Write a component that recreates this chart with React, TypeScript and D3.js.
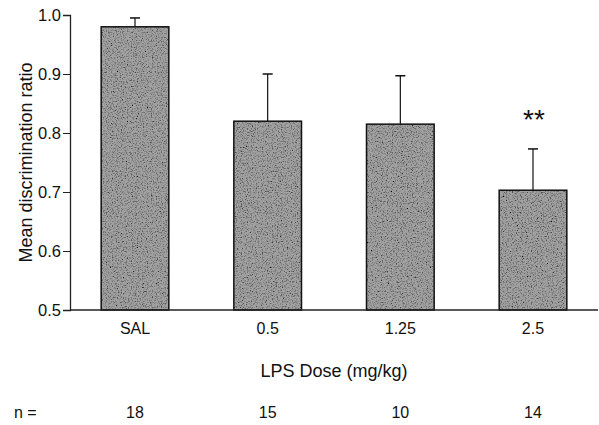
import React from "react";
import * as d3 from "d3";

const doses = ["SAL", "0.5", "1.25", "2.5"];
const means = [0.98, 0.82, 0.815, 0.703];
const errors = [0.015, 0.08, 0.082, 0.07];
const counts = [18, 15, 10, 14];
const yTicks = [0.5, 0.6, 0.7, 0.8, 0.9, 1.0];
const stars = ["", "", "", "**"];

const App = () => {
    const width = 599;
    const height = 425;
    const margin = { top: 15, right: 1, bottom: 115, left: 70 };
    const svgRef = React.useRef<SVGSVGElement>(null);

    React.useEffect(() => {
        const svg = d3.select(svgRef.current);
        svg.selectAll("*").remove();

        const x = d3.scaleBand<string>()
            .domain(doses)
            .range([margin.left, width - margin.right])
            .paddingInner(0.49)
            .paddingOuter(0.235);

        const y = d3.scaleLinear()
            .domain([0.5, 1.0])
            .range([height - margin.bottom, margin.top]);

        const font = "'Liberation Sans', Arial, sans-serif";

        // grainy gray fill
        const defs = svg.append("defs");
        const f = defs.append("filter").attr("id", "grain")
            .attr("x", 0).attr("y", 0).attr("width", 1).attr("height", 1);
        f.append("feTurbulence")
            .attr("type", "fractalNoise")
            .attr("baseFrequency", 0.8)
            .attr("numOctaves", 3)
            .attr("seed", 5)
            .attr("result", "noise");
        f.append("feColorMatrix")
            .attr("in", "noise")
            .attr("type", "matrix")
            .attr("values", "0 0 0 0 0  0 0 0 0 0  0 0 0 0 0  0 0 0 -2.4 1.3")
            .attr("result", "dots");
        f.append("feComposite").attr("in", "dots").attr("in2", "SourceGraphic").attr("operator", "atop");

        const bars = svg.append("g");
        data().forEach(d => {
            const bx = x(d.dose)!;
            const bw = x.bandwidth();
            const cx = bx + bw / 2;
            bars.append("rect")
                .attr("x", bx).attr("y", y(d.mean))
                .attr("width", bw).attr("height", y(0.5) - y(d.mean))
                .attr("fill", "#a2a2a2")
                .attr("filter", "url(#grain)");
            bars.append("rect")
                .attr("x", bx).attr("y", y(d.mean))
                .attr("width", bw).attr("height", y(0.5) - y(d.mean))
                .attr("fill", "none").attr("stroke", "#111").attr("stroke-width", 1.5);
            bars.append("line")
                .attr("x1", cx).attr("x2", cx)
                .attr("y1", y(d.mean)).attr("y2", y(d.mean + d.err))
                .attr("stroke", "#111").attr("stroke-width", 1.2);
            bars.append("line")
                .attr("x1", cx - 5).attr("x2", cx + 5)
                .attr("y1", y(d.mean + d.err)).attr("y2", y(d.mean + d.err))
                .attr("stroke", "#111").attr("stroke-width", 1.5);
            if (d.star) {
                bars.append("text")
                    .attr("x", cx + 1).attr("y", y(d.mean + d.err) - 20)
                    .attr("text-anchor", "middle")
                    .attr("font-family", font).attr("font-size", 28)
                    .attr("fill", "#111")
                    .text(d.star);
            }
        });

        // axes
        const yAxis = svg.append("g")
            .attr("transform", `translate(${margin.left},0)`)
            .call(d3.axisLeft(y).tickValues(yTicks).tickFormat(d3.format(".1f")).tickSize(7).tickPadding(2));
        yAxis.select(".domain").attr("stroke", "#222").attr("stroke-width", 1.3);
        yAxis.selectAll(".tick line").attr("stroke", "#222");
        yAxis.selectAll("text").attr("font-family", font).attr("font-size", 16.5).attr("fill", "#111");

        svg.append("line")
            .attr("x1", margin.left).attr("x2", width - margin.right)
            .attr("y1", y(0.5)).attr("y2", y(0.5))
            .attr("stroke", "#222").attr("stroke-width", 1.3);

        const labels = svg.append("g").attr("font-family", font).attr("font-size", 16).attr("fill", "#111");
        doses.forEach((dose, i) => {
            const cx = x(dose)! + x.bandwidth() / 2;
            labels.append("text").attr("x", cx).attr("y", 334).attr("text-anchor", "middle").text(dose);
            labels.append("text").attr("x", cx).attr("y", 418).attr("text-anchor", "middle").text(counts[i]);
        });
        labels.append("text").attr("x", 14).attr("y", 418).text("n =");
        labels.append("text")
            .attr("x", (x(doses[0])! + x(doses[3])! + x.bandwidth()) / 2).attr("y", 377)
            .attr("text-anchor", "middle").attr("font-size", 18).text("LPS Dose (mg/kg)");
        labels.append("text")
            .attr("transform", `translate(32,${(y(0.5) + y(1.0)) / 2}) rotate(-90)`)
            .attr("text-anchor", "middle").attr("font-size", 18)
            .text("Mean discrimination ratio");
    }, []);

    function data() {
        return doses.map((dose, i) => ({ dose, mean: means[i], err: errors[i], star: stars[i] }));
    }

    return (
        <svg ref={svgRef} width={width} height={height}
            style={{ position: "absolute", left: 0, top: 0, background: "#fff" }} />
    );
};

export default App;
